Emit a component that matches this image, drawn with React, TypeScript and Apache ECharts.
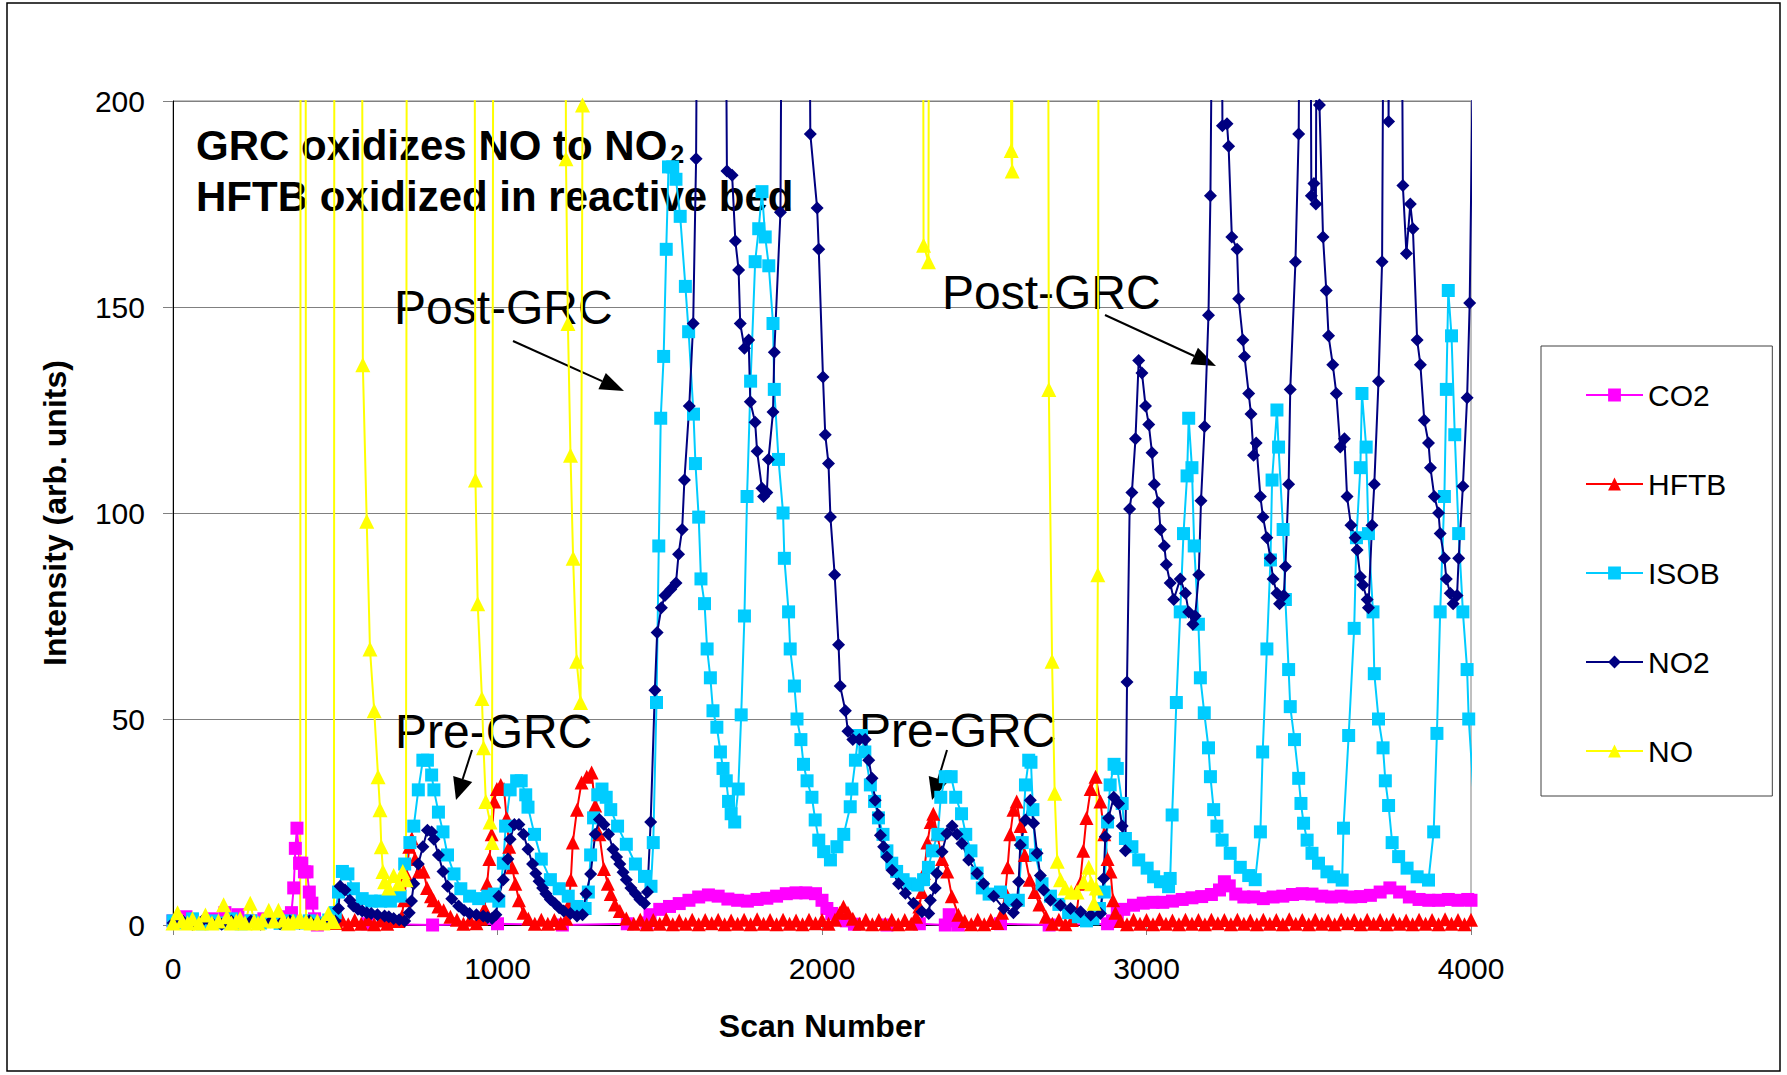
import React, { useEffect, useRef } from "react";
import * as echarts from "echarts";

const FONT = 'Arial, "Liberation Sans", Helvetica, sans-serif';

const scanTicks = [0, 1000, 2000, 3000, 4000];
const intensityTicks = [0, 50, 100, 150, 200];
const seriesNames = ["CO2", "HFTB", "ISOB", "NO2", "NO"];

const co2Data = [
  [0, 1], [40, 2], [80, 0.5], [120, 1.5], [160, 3], [200, 2.5], [240, 1], [280, 1.5], [320, 1], [350, 2], [365, 3], [372, 9], [377, 18.6], [382, 23.5], [390, 15], [397, 15], [405, 12.9], [413, 12.9], [420, 8], [428, 5.3], [436, 1.5], [445, 0],
  [600, 0.3], [800, 0], [1000, 0.3], [1200, 0], [1400, 0.3], [1460, 0.5],
  [1470, 2.5], [1500, 3.8], [1530, 4.5], [1560, 5.2], [1590, 6], [1620, 6.8], [1650, 7.3], [1680, 7], [1710, 6.3], [1740, 6], [1770, 5.8], [1800, 6.2], [1830, 6.5], [1860, 7], [1890, 7.6], [1920, 7.8], [1950, 7.8], [1980, 7.6], [2000, 6], [2015, 4], [2030, 2.8], [2050, 1.8], [2075, 1], [2100, 0.2],
  [2200, 0], [2300, 0.3], [2380, 0], [2392, 2.5], [2405, 1], [2420, 0], [2550, 0.3], [2700, 0], [2880, 0.3],
  [2895, 1], [2910, 2.8], [2930, 3.8], [2960, 4.8], [2990, 5.3], [3020, 5.5], [3050, 5.5], [3080, 5.8], [3110, 6.2], [3140, 6.6], [3170, 6.9], [3200, 7.4], [3225, 8.5], [3240, 10.5], [3255, 9.5], [3275, 7.5], [3300, 6.8], [3330, 6.8], [3360, 6.4], [3390, 6.8], [3420, 7], [3450, 7.4], [3480, 7.6], [3510, 7.5], [3540, 7], [3570, 6.8], [3600, 7], [3630, 6.8], [3660, 6.9], [3690, 7.2], [3720, 8], [3750, 9], [3780, 8], [3810, 6.8], [3840, 6.2], [3870, 6], [3900, 6], [3930, 6.2], [3960, 6], [3990, 6.2], [4000, 6],
];

const hftbData = [
  [505, 0.5], [520, 1.3], [540, 0.2], [560, 1.2], [580, 0.3], [600, 1.4], [620, 0.2], [640, 1.1], [660, 0.3], [680, 1.3], [695, 1], [705, 2], [712, 6], [720, 12], [728, 19], [736, 21], [746, 16], [758, 13], [772, 13], [783, 9], [795, 7], [803, 6], [818, 4.5], [834, 3.6], [855, 2], [875, 1.3], [895, 0.3], [915, 1.3], [935, 0.4], [950, 1.5], [960, 4], [968, 10], [975, 16], [982, 22], [990, 30], [998, 33], [1010, 34], [1020, 33], [1028, 26], [1036, 19], [1045, 14], [1055, 10], [1066, 6], [1080, 3], [1095, 1.5], [1115, 0.3], [1135, 1.3], [1155, 0.3], [1175, 1.2], [1195, 0.4], [1212, 1.5], [1220, 5], [1226, 11], [1232, 20], [1245, 28], [1259, 34.6], [1275, 36], [1290, 37], [1301, 29], [1314, 22], [1328, 13.6], [1340, 10], [1349, 7.5], [1362, 5], [1377, 3.4], [1397, 1.6],
  [1420, 0.3], [1440, 1.3], [1460, 0.2], [1480, 1.2], [1500, 0.3], [1520, 1.4], [1540, 0.2], [1560, 1.1], [1580, 0.3], [1600, 1.3], [1620, 0.2], [1640, 1.2], [1660, 0.4], [1680, 1.3], [1700, 0.2], [1720, 1.1], [1740, 0.3], [1760, 1.3], [1780, 0.2], [1800, 1.4], [1820, 0.3], [1840, 1.2], [1860, 0.2], [1880, 1.3], [1900, 0.3], [1920, 1.1], [1940, 0.2], [1960, 1.3], [1980, 0.4], [2000, 1.2], [2020, 0.3], [2040, 1.3], [2055, 3], [2066, 4.4], [2080, 3], [2095, 1.5], [2115, 0.3], [2135, 1.3], [2155, 0.2], [2175, 1.2], [2195, 0.3], [2215, 1.3], [2235, 0.2], [2255, 1.2], [2275, 0.3],
  [2290, 2], [2300, 4.5], [2308, 8], [2314, 12.6], [2325, 20], [2335, 25], [2343, 27], [2355, 22], [2370, 16], [2386, 13], [2400, 7], [2420, 2.5], [2440, 1], [2460, 0.2], [2480, 1.3], [2500, 0.2], [2520, 1.2], [2540, 0.5], [2555, 3], [2565, 8], [2572, 14], [2580, 22], [2590, 28], [2600, 30], [2612, 24], [2625, 17], [2640, 11], [2655, 8], [2670, 5], [2690, 2], [2710, 0.3], [2730, 1.3], [2750, 0.2], [2770, 1.2], [2785, 3], [2795, 10], [2805, 18], [2815, 26], [2828, 33], [2843, 36], [2858, 30], [2870, 22], [2880, 16], [2889, 13], [2897, 6], [2904, 3], [2920, 1],
  [2940, 0.2], [2960, 1.3], [2980, 0.3], [3000, 1.2], [3020, 0.2], [3040, 1.4], [3060, 0.3], [3080, 1.1], [3100, 0.2], [3120, 1.3], [3140, 0.3], [3160, 1.2], [3180, 0.2], [3200, 1.3], [3220, 0.4], [3240, 1.2], [3260, 0.2], [3280, 1.3], [3300, 0.3], [3320, 1.1], [3340, 0.2], [3360, 1.3], [3380, 0.3], [3400, 1.2], [3420, 0.2], [3440, 1.4], [3460, 0.3], [3480, 1.2], [3500, 0.2], [3520, 1.3], [3540, 0.3], [3560, 1.1], [3580, 0.2], [3600, 1.3], [3620, 0.4], [3640, 1.2], [3660, 0.2], [3680, 1.3], [3700, 0.3], [3720, 1.2], [3740, 0.2], [3760, 1.3], [3780, 0.3], [3800, 1.1], [3820, 0.2], [3840, 1.3], [3860, 0.3], [3880, 1.2], [3900, 0.2], [3920, 1.4], [3940, 0.3], [3960, 1.2], [3980, 0.2], [4000, 1.3],
];

const isobData = [
  [0, 1], [30, 0.5], [60, 1.5], [90, 0.3], [120, 1], [150, 0.5], [180, 1.5], [210, 0.3], [240, 1], [270, 0.5], [300, 1.2], [330, 0.4], [360, 1], [390, 0.5], [420, 1], [450, 0.5], [480, 1.2], [500, 3], [510, 8], [522, 13], [539, 12.4], [556, 8.8], [583, 6.4], [611, 5.8], [640, 5.8], [670, 5.8], [700, 7], [714, 14.8], [730, 20], [742, 24], [756, 32.8], [770, 40], [784, 40], [797, 36.4], [804, 32.8], [818, 27.4], [832, 22.6], [846, 17], [866, 12.4], [887, 8.8], [914, 7], [942, 6.4], [970, 7], [990, 7.5], [1004, 5.8], [1018, 15], [1025, 24], [1039, 32.8], [1059, 35], [1073, 35], [1087, 31.6], [1094, 28.6], [1114, 22], [1135, 16], [1163, 11], [1190, 8.8], [1218, 7], [1245, 4.5], [1270, 4], [1280, 8], [1287, 17], [1296, 26], [1309, 31.6], [1322, 33], [1335, 31], [1349, 28], [1370, 24], [1397, 19.6], [1425, 14.8], [1453, 11.8], [1473, 9.4],
  [1480, 20], [1490, 54], [1497, 92], [1503, 123], [1512, 138], [1520, 164], [1527, 184], [1540, 184], [1550, 181], [1563, 172], [1579, 155], [1589, 144], [1604, 124], [1610, 112], [1620, 99], [1627, 84], [1638, 78], [1646, 67], [1656, 60], [1664, 52], [1676, 48], [1687, 42], [1695, 38], [1705, 35], [1712, 30], [1720, 27], [1731, 25], [1742, 33], [1751, 51], [1761, 75], [1769, 104], [1780, 132], [1794, 161], [1805, 169], [1815, 178], [1825, 167], [1836, 160], [1849, 146], [1853, 130], [1866, 113], [1880, 100], [1884, 89], [1897, 76], [1902, 67], [1915, 58], [1923, 50], [1935, 45], [1943, 39], [1954, 35], [1969, 31], [1979, 25.5], [1990, 20.6], [2005, 17.8], [2026, 15.8], [2046, 19], [2067, 22], [2087, 28.7], [2092, 33], [2103, 40], [2112, 46], [2122, 46], [2132, 42], [2149, 34], [2162, 30], [2174, 26], [2188, 22], [2200, 18], [2215, 15], [2230, 13], [2250, 11], [2270, 10], [2295, 9.7], [2313, 11], [2328, 14], [2340, 18], [2357, 22], [2366, 31], [2380, 36], [2398, 36], [2412, 31], [2430, 27], [2443, 22], [2459, 18], [2478, 12.6], [2494, 9], [2515, 7.5], [2550, 8], [2580, 6], [2605, 6], [2617, 20], [2627, 34], [2637, 40], [2644, 39.5], [2650, 28], [2658, 17], [2678, 10], [2704, 7], [2730, 5], [2760, 3], [2790, 2], [2815, 1], [2835, 1.5], [2855, 4], [2870, 8], [2880, 25], [2888, 34], [2900, 39], [2910, 38], [2925, 29.5], [2935, 21], [2955, 19], [2976, 15.8], [3002, 13.8], [3022, 11.7], [3043, 10.5], [3068, 9.3], [3073, 11.3], [3079, 26.7], [3092, 54], [3104, 76], [3114, 95], [3125, 109], [3130, 123], [3140, 111], [3147, 92], [3160, 73], [3166, 60], [3178, 51.5], [3191, 43], [3197, 36], [3207, 28], [3217, 24], [3233, 20.6], [3258, 17.4], [3289, 14], [3315, 12], [3335, 11], [3351, 22.6], [3358, 42], [3371, 67], [3382, 88.6], [3387, 108], [3402, 125], [3407, 116], [3421, 96], [3428, 79], [3438, 62], [3443, 53], [3456, 45], [3469, 35.6], [3476, 29.5], [3484, 24.7], [3495, 20.6], [3510, 17.4], [3530, 15], [3556, 12.9], [3577, 11.7], [3603, 10.9], [3607, 23.5], [3623, 46], [3640, 72], [3647, 94], [3659, 111], [3664, 129], [3677, 116], [3684, 95], [3698, 76], [3702, 61], [3715, 50], [3729, 43], [3736, 35], [3746, 29], [3757, 20], [3777, 16.6], [3803, 13.8], [3834, 11.7], [3869, 10.9], [3885, 22.6], [3895, 46.5], [3905, 76], [3918, 104], [3924, 130], [3930, 154], [3940, 143], [3950, 119], [3962, 95], [3975, 76], [3988, 62], [3993, 50], [4003, 38], [4012, 25],
];

const no2Data = [
  [0, 0.5], [30, 1], [60, 0.2], [90, 1], [120, 0.4], [150, 0.2], [180, 1], [210, 0.4], [240, 1], [270, 0.2], [300, 0.8], [330, 0.3], [360, 1], [390, 0.4], [420, 1], [450, 0.3], [480, 0.8], [500, 1], [510, 4], [515, 9.4], [530, 8.5], [545, 6], [556, 4.6], [570, 3.8], [583, 3.4], [597, 3], [611, 2.8], [630, 2.5], [652, 2.2], [665, 2], [680, 1.6], [697, 1.3], [714, 1], [728, 3], [735, 5.8], [742, 10], [756, 14.8], [770, 19], [784, 23], [797, 22.6], [804, 20.8], [818, 17], [832, 13], [846, 9.4], [859, 6.4], [880, 4.6], [897, 3.5], [914, 2.8], [935, 2.5], [956, 2.2], [970, 1.8], [983, 1.6], [995, 2.5], [1004, 7], [1018, 11], [1032, 16], [1039, 20.8], [1052, 24.4], [1066, 24.4], [1080, 22], [1094, 18.4], [1108, 14.8], [1118, 12.5], [1128, 10.6], [1139, 9], [1149, 7.6], [1163, 6.2], [1177, 5.2], [1190, 4.2], [1204, 3.4], [1225, 2.8], [1245, 2.2], [1262, 2.5], [1273, 7.6], [1287, 12.4], [1301, 22], [1314, 25.6], [1328, 24.4], [1342, 22], [1356, 18.4], [1367, 16.5], [1377, 14.8], [1387, 12.8], [1397, 11], [1411, 9], [1425, 7.6], [1439, 6.2], [1453, 5.2],
  [1462, 8], [1472, 25], [1485, 57], [1492, 71], [1505, 77], [1516, 80], [1534, 81.5], [1550, 83], [1558, 90], [1569, 96], [1576, 108], [1591, 126], [1603, 146], [1612, 186], [1620, 300], [1698, 300], [1707, 183], [1723, 182], [1733, 166], [1743, 159], [1748, 146], [1761, 140], [1774, 142], [1779, 127], [1794, 122], [1800, 115], [1815, 106], [1820, 104], [1830, 105], [1835, 113], [1849, 124.5], [1853, 139], [1872, 173], [1880, 300], [1956, 300], [1964, 192], [1985, 174], [1990, 164], [2003, 133], [2010, 119], [2020, 112], [2026, 99], [2039, 85], [2051, 68], [2056, 58], [2072, 52], [2080, 47], [2095, 45], [2115, 45], [2133, 45], [2144, 40], [2154, 35.6], [2164, 30.3], [2174, 26.7], [2180, 21.8], [2190, 19], [2200, 16.5], [2216, 13.3], [2236, 10], [2257, 7.7], [2282, 5.3], [2308, 3.2], [2329, 2.8], [2334, 6], [2349, 9], [2354, 12.5], [2370, 17.8], [2385, 22.2], [2401, 24], [2416, 22], [2431, 19.8], [2452, 15.8], [2478, 12.5], [2498, 10], [2529, 7], [2560, 4], [2590, 3], [2600, 5], [2606, 10.5], [2611, 19.4], [2627, 25.5], [2642, 30.3], [2652, 24.7], [2663, 17.4], [2673, 12], [2683, 8.5], [2704, 6], [2735, 4.8], [2766, 4], [2797, 3.2], [2828, 2.4], [2858, 2.8], [2868, 11.3], [2873, 21.4], [2883, 26], [2899, 31], [2914, 29.5], [2925, 24], [2935, 18],
  [2940, 59], [2948, 101], [2955, 105], [2966, 118], [2976, 137], [2986, 134], [2997, 126], [3007, 121.5], [3017, 114.6], [3024, 107], [3037, 102.5], [3043, 96], [3055, 92], [3061, 87.5], [3073, 83], [3084, 79], [3104, 84], [3120, 80.5], [3130, 76], [3143, 73], [3150, 75], [3161, 85], [3168, 103], [3179, 121], [3191, 148], [3197, 177], [3210, 300], [3228, 300], [3234, 194], [3248, 194.5], [3253, 189], [3263, 167], [3279, 164], [3284, 152], [3297, 142], [3302, 138], [3315, 129], [3322, 124], [3330, 114], [3338, 117], [3351, 104], [3359, 99], [3371, 94], [3382, 89], [3390, 84], [3402, 80.5], [3410, 78], [3423, 80], [3428, 87], [3438, 107], [3443, 130], [3459, 161], [3469, 192], [3478, 300], [3502, 300], [3508, 177], [3516, 180], [3522, 175], [3527, 300], [3533, 199], [3544, 167], [3554, 154], [3561, 143], [3574, 136], [3585, 129], [3597, 116], [3610, 118], [3618, 104], [3630, 97], [3643, 94], [3649, 91], [3659, 84.5], [3667, 82.5], [3680, 79], [3684, 77], [3695, 97], [3702, 107], [3715, 132], [3726, 161], [3735, 300], [3742, 300], [3746, 195], [3752, 300], [3782, 300], [3790, 179.5], [3801, 163], [3813, 175], [3821, 169], [3834, 142], [3844, 136], [3856, 122.5], [3869, 117], [3875, 111], [3887, 104], [3900, 100], [3905, 95], [3918, 89], [3924, 84], [3936, 80.5], [3945, 78], [3957, 80], [3962, 89], [3975, 106.5], [3988, 128], [3996, 151], [4004, 200], [4010, 300],
];

const noData = [
  [0, 0.5], [14, 3], [28, 1], [45, 0.5], [60, 1.5], [80, 0.5], [100, 2.4], [120, 0.5], [140, 1], [156, 4.9], [166, 2], [180, 0.5], [195, 1], [207, 1.6], [222, 0.5], [238, 5.3], [250, 1], [262, 0.5], [275, 1.2], [295, 3.6], [310, 1], [325, 3.6], [340, 1.2], [355, 0.5], [370, 1], [385, 0.8], [392, 1.5], [394, 400], [408, 400], [410, 1], [425, 0.5], [445, 1], [462, 0.5], [479, 2.8], [490, 1], [496, 0.8], [498, 400], [578, 400], [585, 136], [597, 98], [607, 67], [620, 52], [632, 36], [638, 28], [642, 19], [647, 13], [652, 10.5], [665, 9], [680, 12], [695, 10], [708, 13], [718, 11], [722, 400], [926, 400], [932, 108], [939, 78], [952, 55], [957, 43], [964, 30], [977, 25], [983, 20], [990, 400], [1205, 400], [1211, 186], [1217, 146], [1225, 114], [1233, 89], [1244, 64], [1256, 54], [1262, 199], [1266, 400], [2308, 400], [2313, 165], [2328, 161], [2333, 400], [2578, 400], [2583, 188], [2586, 183], [2590, 400], [2694, 400], [2699, 130], [2709, 64], [2717, 32], [2725, 15.5], [2735, 11], [2750, 9], [2768, 8], [2786, 8], [2806, 10.5], [2822, 14], [2830, 10], [2838, 5.3], [2845, 9], [2850, 85], [2855, 400], [4000, 400],
];

const seriesColors = ["#FF00FF", "#FF0000", "#00CCFF", "#000080", "#FFFF00"];
const seriesSymbols = ["rect", "triangle", "rect", "diamond", "triangle"];
const seriesSymbolSizes = [13, 14, 13, 13, 15];
const seriesData = [co2Data, hftbData, isobData, no2Data, noData];
// ISOB trace runs a little past the right border of the plot in the original
const seriesClip = [true, true, false, true, true];

function arrow(x1: number, y1: number, x2: number, y2: number, len: number, half: number) {
  const dx = x2 - x1;
  const dy = y2 - y1;
  const L = Math.sqrt(dx * dx + dy * dy);
  const ux = dx / L;
  const uy = dy / L;
  const bx = x2 - ux * len;
  const by = y2 - uy * len;
  return [
    { type: "line", z: 1, shape: { x1, y1, x2: bx, y2: by }, style: { stroke: "#000", lineWidth: 2 } },
    {
      type: "polygon",
      z: 1,
      shape: { points: [[x2, y2], [bx - uy * half, by + ux * half], [bx + uy * half, by - ux * half]] },
      style: { fill: "#000" },
    },
  ];
}

export default function App() {
  const ref = useRef<HTMLDivElement>(null);
  useEffect(() => {
    if (!ref.current) return;
    const chart = echarts.init(ref.current, undefined, { renderer: "svg" });
    const xMax = scanTicks[scanTicks.length - 1];
    const series = seriesNames.map((name, i) => ({
      name,
      type: "line",
      data: seriesData[i].map((p) => (p[0] > xMax ? { value: p, symbol: "none" } : p)),
      color: seriesColors[i],
      symbol: seriesSymbols[i],
      symbolSize: seriesSymbolSizes[i],
      showSymbol: true,
      showAllSymbol: true,
      clip: seriesClip[i],
      lineStyle: { color: seriesColors[i], width: 2 },
      itemStyle: { color: seriesColors[i], borderWidth: 0 },
      emphasis: { disabled: true },
      z: 2,
    }));
    const textBase = { fill: "#000", fontFamily: FONT, verticalAlign: "middle", align: "left" };
    const option: any = {
      animation: false,
      backgroundColor: "#ffffff",
      textStyle: { fontFamily: FONT },
      grid: { left: 173, top: 101, width: 1298, height: 824, show: true, borderColor: "#808080", borderWidth: 1, backgroundColor: "transparent" },
      xAxis: {
        type: "value",
        min: scanTicks[0],
        max: xMax,
        interval: scanTicks[1] - scanTicks[0],
        name: "Scan Number",
        nameLocation: "middle",
        nameGap: 85,
        nameTextStyle: { fontSize: 32, fontWeight: "bold", color: "#000", fontFamily: FONT },
        axisLine: { show: true, onZero: false, lineStyle: { color: "#000", width: 1 } },
        axisTick: { show: true, length: 10, lineStyle: { color: "#808080" } },
        axisLabel: { fontSize: 30, color: "#000", margin: 28, fontFamily: FONT, formatter: (v: number) => String(v) },
        splitLine: { show: false },
      },
      yAxis: {
        type: "value",
        min: intensityTicks[0],
        max: intensityTicks[intensityTicks.length - 1],
        interval: intensityTicks[1] - intensityTicks[0],
        name: "Intensity (arb. units)",
        nameLocation: "middle",
        nameGap: 102,
        nameRotate: 90,
        nameTextStyle: { fontSize: 32, fontWeight: "bold", color: "#000", fontFamily: FONT },
        axisLine: { show: true, lineStyle: { color: "#000", width: 1 } },
        axisTick: { show: true, length: 10, lineStyle: { color: "#808080" } },
        axisLabel: { fontSize: 30, color: "#000", margin: 28, fontFamily: FONT, formatter: (v: number) => String(v) },
        splitLine: { show: true, lineStyle: { color: "#808080", width: 1 } },
      },
      legend: {
        orient: "vertical",
        left: 1541,
        top: 346,
        padding: [34, 46, 30, 44],
        itemGap: 59,
        itemWidth: 57,
        itemHeight: 16,
        backgroundColor: "#ffffff",
        borderColor: "#404040",
        borderWidth: 1,
        textStyle: { fontSize: 30, color: "#000", fontFamily: FONT },
        data: seriesNames,
      },
      graphic: [
        { type: "rect", z: 0, shape: { x: 7, y: 3, width: 1773, height: 1068 }, style: { fill: "none", stroke: "#000", lineWidth: 1.5 } },
        {
          type: "text",
          z: 1,
          x: 196,
          y: 145,
          style: {
            ...textBase,
            text: "{a|GRC oxidizes NO to NO}{b|2}",
            rich: {
              a: { fontSize: 42, fontWeight: "bold", fontFamily: FONT, lineHeight: 42, fill: "#000" },
              b: { fontSize: 25, fontWeight: "bold", fontFamily: FONT, lineHeight: 12, verticalAlign: "bottom", fill: "#000", padding: [0, 0, 0, 3] },
            },
          },
        },
        { type: "text", z: 1, x: 196, y: 196, style: { ...textBase, text: "HFTB oxidized in reactive bed", fontSize: 42, fontWeight: "bold" } },
        { type: "text", z: 1, x: 394, y: 307, style: { ...textBase, text: "Post-GRC", fontSize: 48 } },
        { type: "text", z: 1, x: 942, y: 292, style: { ...textBase, text: "Post-GRC", fontSize: 48 } },
        { type: "text", z: 1, x: 395, y: 731, style: { ...textBase, text: "Pre-GRC", fontSize: 48 } },
        { type: "text", z: 1, x: 859, y: 730, style: { ...textBase, text: "Pre-GRC", fontSize: 48 } },
        ...arrow(513, 341, 624, 391, 24, 9),
        ...arrow(1105, 315, 1216, 366, 24, 9),
        ...arrow(472, 750, 456, 800, 22, 10),
        ...arrow(947, 750, 932, 800, 22, 10),
      ],
      series,
    };
    chart.setOption(option);
    return () => chart.dispose();
  }, []);
  return (
    <div
      ref={ref}
      style={{ position: "fixed", left: 0, top: 0, width: 1787, height: 1075, background: "#ffffff" }}
    />
  );
}
